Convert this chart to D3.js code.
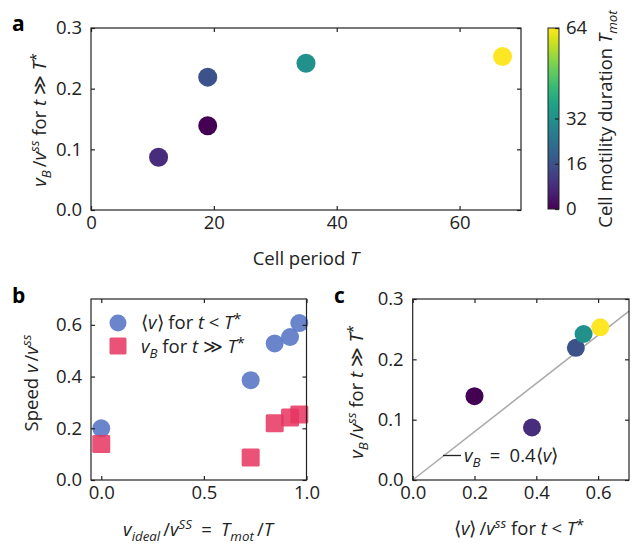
<!DOCTYPE html>
<html><head><meta charset="utf-8">
<script src="https://cdn.jsdelivr.net/npm/d3@7"></script>
<style>
body{margin:0;background:#fff;}
svg{font-family:"Open Sans","Noto Sans",sans-serif;}
</style></head>
<body><svg id="c" width="644" height="546"></svg>
<script>
// ---- data ----
const tmot = [0, 8, 16, 32, 64];                 // cell motility duration (colour)
const period = [19.0, 11.0, 19.0, 35.0, 67.0];   // cell period T
const vB = [0.139, 0.087, 0.219, 0.242, 0.253];  // v_B / v^ss for t >> T*
const vMean = [0.200, 0.386, 0.528, 0.553, 0.607]; // <v>/v^ss for t < T*
const vIdeal = [0.0, 0.728, 0.845, 0.92, 0.965]; // v_ideal / v^ss
const ticksAx = [0, 20, 40, 60];
const ticksAy = [0, 0.1, 0.2, 0.3];
const ticksBx = [0, 0.5, 1.0];
const ticksBy = [0, 0.2, 0.4, 0.6];
const ticksCx = [0, 0.2, 0.4, 0.6];
const ticksCy = [0, 0.1, 0.2, 0.3];
const cbTicks = [0, 16, 32, 64];
const fitSlope = [0.4];

const FS = 18.5;
const svg = d3.select("#c");
const ink = "#222";
const color = d3.scaleSequential(d3.interpolateViridis).domain([0, 64]);
const TH = "\u2009", MS = "\u2005", EN = "\u2002"; // thin / medium / en spaces

function rich(sel, segs, fs) {
  let off = 0;
  segs.forEach(s => {
    const ts = sel.append("tspan").text(s.t);
    if (s.i) ts.attr("font-style", "italic");
    let target = 0;
    if (s.s === "sub") { target = 0.25 * fs; ts.attr("font-size", fs * 0.72); }
    else if (s.s === "sup") { target = -0.4 * fs; ts.attr("font-size", fs * 0.72); }
    else if (s.s === "star") { target = -0.25 * fs; ts.attr("font-size", fs * 0.8); }
    ts.attr("dy", target - off);
    off = target;
  });
}

function frame(x, y, xt, yt, fx, fy) {
  const g = svg.append("g");
  const [x0, x1] = x.range(), [y0, y1] = y.range();
  const ax = (a, tr) => {
    const gg = g.append("g").attr("transform", tr).call(a);
    gg.select(".domain").remove();
    gg.selectAll("line").attr("stroke", ink).attr("stroke-width", 1.2);
    gg.selectAll("text").attr("font-size", FS).attr("fill", ink).attr("font-family", "Open Sans");
    return gg;
  };
  ax(d3.axisBottom(x).tickValues(xt).tickSize(-4).tickPadding(6).tickFormat(fx), `translate(0,${y0})`);
  ax(d3.axisTop(x).tickValues(xt).tickSize(-4).tickFormat(""), `translate(0,${y1})`);
  ax(d3.axisLeft(y).tickValues(yt).tickSize(-4).tickPadding(9).tickFormat(fy), `translate(${x0},0)`);
  ax(d3.axisRight(y).tickValues(yt).tickSize(-4).tickFormat(""), `translate(${x1},0)`);
  g.append("rect").attr("x", x0).attr("y", y1).attr("width", x1 - x0).attr("height", y0 - y1)
    .attr("fill", "none").attr("stroke", ink).attr("stroke-width", 1.2);
  return g;
}
const f1 = d3.format(".1f"), f0 = d3.format("d");
function label(x, y, rot, segs) {
  const t = svg.append("text").attr("transform", `translate(${x},${y})` + (rot ? " rotate(-90)" : ""))
    .attr("text-anchor", "middle").attr("font-size", FS).attr("fill", ink);
  rich(t, segs, FS);
  return t;
}

// ---- panel a ----
const xA = d3.scaleLinear([0, 70], [91, 521]);
const yA = d3.scaleLinear([0, 0.3], [210, 28]);
svg.append("g").selectAll("circle").data(d3.range(tmot.length)).join("circle")
  .attr("cx", i => xA(period[i])).attr("cy", i => yA(vB[i])).attr("r", 9.5)
  .attr("fill", i => color(tmot[i]));
frame(xA, yA, ticksAx, ticksAy, f0, f1);

// colorbar
const cb = d3.scaleLinear([0, 64], [209, 28]);
const defs = svg.append("defs");
const grad = defs.append("linearGradient").attr("id", "vir").attr("x1", 0).attr("y1", 1).attr("x2", 0).attr("y2", 0);
d3.range(0, 1.0001, 0.05).forEach(t => grad.append("stop").attr("offset", t).attr("stop-color", d3.interpolateViridis(t)));
const cbg = svg.append("g");
cbg.append("rect").attr("x", 548).attr("y", cb(64)).attr("width", 11).attr("height", cb(0) - cb(64))
  .attr("fill", "url(#vir)").attr("stroke", ink).attr("stroke-width", 1);
const cba = cbg.append("g").attr("transform", "translate(559,0)")
  .call(d3.axisRight(cb).tickValues(cbTicks).tickSize(-4).tickPadding(7).tickFormat(f0));
cba.select(".domain").remove();
cba.selectAll("line").attr("stroke", ink).attr("stroke-width", 1.2);
cba.selectAll("text").attr("font-size", FS).attr("fill", ink).attr("font-family", "Open Sans");
label(612, 119, true, [{t: "Cell motility duration "}, {t: "T", i: 1}, {t: "mot", i: 1, s: "sub"}]);

// labels a
const yLabSegs = [{t: "v", i: 1}, {t: "B", i: 1, s: "sub"}, {t: TH + "/"}, {t: "v", i: 1}, {t: "ss", i: 1, s: "sup"},
  {t: " for "}, {t: "t", i: 1}, {t: MS + "≫" + MS}, {t: "T", i: 1}, {t: "*", s: "star"}];
label(46, 120, true, yLabSegs);
label(306, 265, false, [{t: "Cell period "}, {t: "T", i: 1}]);

// ---- panel b ----
const xB = d3.scaleLinear([-0.05, 1.0], [91, 306.5]);
const yB = d3.scaleLinear([0, 0.7], [480, 299]);
const gb = svg.append("g");
gb.selectAll("circle").data(d3.range(vIdeal.length)).join("circle")
  .attr("cx", i => xB(vIdeal[i])).attr("cy", i => yB(vMean[i])).attr("r", 9)
  .attr("fill", "#5a78c5").attr("fill-opacity", 0.9);
gb.selectAll("rect").data(d3.range(vIdeal.length)).join("rect")
  .attr("x", i => xB(vIdeal[i]) - 9).attr("y", i => yB(vB[i]) - 9).attr("width", 18).attr("height", 18).attr("rx", 1.5)
  .attr("fill", "#e6355f").attr("fill-opacity", 0.85);
frame(xB, yB, ticksBx, ticksBy, f1, f1);
// legend b
svg.append("circle").attr("cx", 118).attr("cy", 323).attr("r", 8.5).attr("fill", "#5a78c5").attr("fill-opacity", 0.9);
svg.append("rect").attr("x", 109.5).attr("y", 337.5).attr("width", 17).attr("height", 17).attr("rx", 1.5).attr("fill", "#e6355f").attr("fill-opacity", 0.85);
const lg1 = svg.append("text").attr("x", 141).attr("y", 329).attr("font-size", FS).attr("fill", ink);
rich(lg1, [{t: "⟨"}, {t: "v", i: 1}, {t: "⟩ for "}, {t: "t", i: 1}, {t: MS + "<" + MS}, {t: "T", i: 1}, {t: "*", s: "star"}], FS);
const lg2 = svg.append("text").attr("x", 141).attr("y", 353).attr("font-size", FS).attr("fill", ink);
rich(lg2, [{t: "v", i: 1}, {t: "B", i: 1, s: "sub"}, {t: " for "}, {t: "t", i: 1}, {t: MS + "≫" + MS}, {t: "T", i: 1}, {t: "*", s: "star"}], FS);
label(38, 383, true, [{t: "Speed "}, {t: "v", i: 1}, {t: TH + "/"}, {t: "v", i: 1}, {t: "ss", i: 1, s: "sup"}]);
label(198, 536, false, [{t: "v", i: 1}, {t: "ideal", i: 1, s: "sub"}, {t: TH + "/"}, {t: "v", i: 1}, {t: "SS", i: 1, s: "sup"}, {t: EN + "=" + EN},
  {t: "T", i: 1}, {t: "mot", i: 1, s: "sub"}, {t: TH + "/"}, {t: "T", i: 1}]);

// ---- panel c ----
const xC = d3.scaleLinear([0, 0.7], [412.7, 629]);
const yC = d3.scaleLinear([0, 0.3], [480, 299]);
const gc = svg.append("g");
gc.append("line").attr("x1", xC(0)).attr("y1", yC(0)).attr("x2", xC(0.7)).attr("y2", yC(0.7 * fitSlope[0]))
  .attr("stroke", "#aaa").attr("stroke-width", 1.5);
gc.selectAll("circle").data(d3.range(vMean.length)).join("circle")
  .attr("cx", i => xC(vMean[i])).attr("cy", i => yC(vB[i])).attr("r", 9)
  .attr("fill", i => color(tmot[i]));
frame(xC, yC, ticksCx, ticksCy, f1, f1);
svg.append("line").attr("x1", 443).attr("x2", 461).attr("y1", 455.5).attr("y2", 455.5).attr("stroke", "#222").attr("stroke-width", 1.3);
const lgc = svg.append("text").attr("x", 464).attr("y", 462).attr("font-size", FS).attr("fill", ink);
rich(lgc, [{t: "v", i: 1}, {t: "B", i: 1, s: "sub"}, {t: EN + "=" + EN + fitSlope[0] + "⟨"}, {t: "v", i: 1}, {t: "⟩"}], FS);
label(363, 392, true, yLabSegs);
label(519, 535, false, [{t: "⟨"}, {t: "v", i: 1}, {t: "⟩" + TH + "/"}, {t: "v", i: 1}, {t: "ss", i: 1, s: "sup"}, {t: " for "}, {t: "t", i: 1}, {t: MS + "<" + MS}, {t: "T", i: 1}, {t: "*", s: "star"}]);

// panel letters
[["a", 12, 31], ["b", 12, 303], ["c", 334, 303]].forEach(([t, x, y]) =>
  svg.append("text").attr("x", x).attr("y", y).attr("font-size", 21).attr("font-weight", "bold").attr("fill", "#000").text(t));
</script></body></html>
